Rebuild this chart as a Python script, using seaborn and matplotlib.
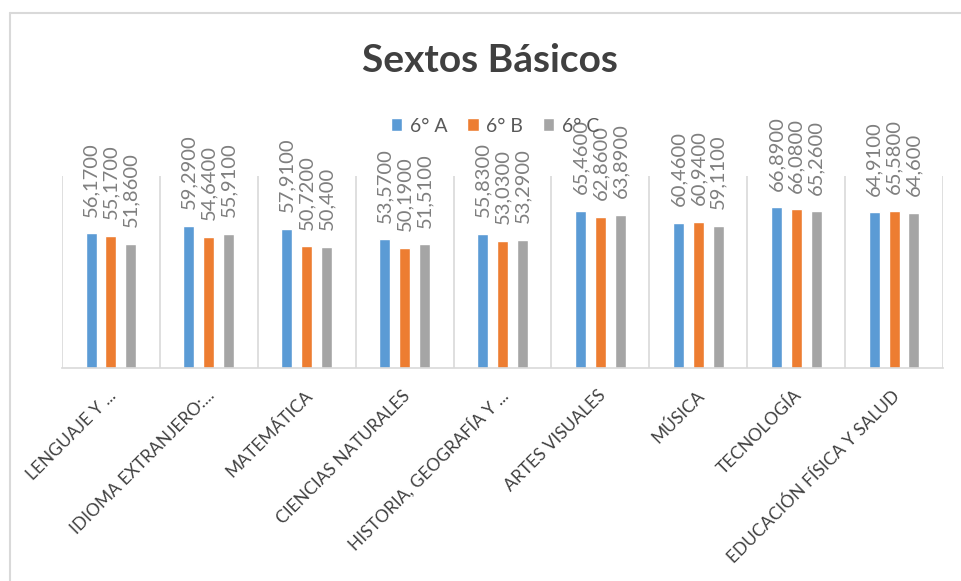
import numpy as np
import pandas as pd
import matplotlib
matplotlib.use("Agg")
import matplotlib.pyplot as plt
import matplotlib.transforms as mtransforms
import seaborn as sns

asignaturas = ["LENGUAJE Y ...", "IDIOMA EXTRANJERO:...", "MATEMÁTICA",
               "CIENCIAS NATURALES", "HISTORIA, GEOGRAFÍA Y ...", "ARTES VISUALES",
               "MÚSICA", "TECNOLOGÍA", "EDUCACIÓN FÍSICA Y SALUD"]
cursos = ["6° A", "6° B", "6° C"]
sexto_a = [56.17, 59.29, 57.91, 53.57, 55.83, 65.46, 60.46, 66.89, 64.91]
sexto_b = [55.17, 54.64, 50.72, 50.19, 53.03, 62.86, 60.94, 66.08, 65.58]
sexto_c = [51.86, 55.91, 50.40, 51.51, 53.29, 63.89, 59.11, 65.26, 64.60]
etiquetas_a = ["56,1700", "59,2900", "57,9100", "53,5700", "55,8300", "65,4600", "60,4600", "66,8900", "64,9100"]
etiquetas_b = ["55,1700", "54,6400", "50,7200", "50,1900", "53,0300", "62,8600", "60,9400", "66,0800", "65,5800"]
etiquetas_c = ["51,8600", "55,9100", "50,400", "51,5100", "53,2900", "63,8900", "59,1100", "65,2600", "64,600"]
colores = ["#5B9BD5", "#ED7D31", "#A5A5A5"]

df = pd.DataFrame({
    "asignatura": asignaturas * 3,
    "curso": np.repeat(cursos, len(asignaturas)),
    "nota": sexto_a + sexto_b + sexto_c,
})

sns.set_theme(style="white")
plt.rcParams["font.family"] = ["Lato", "DejaVu Sans"]

W, H = 962, 581
fig = plt.figure(figsize=(W / 100, H / 100), dpi=100)
ax = fig.add_axes([62 / W, (H - 368) / H, (943 - 62) / W, (368 - 176) / H])

sns.barplot(data=df, x="asignatura", y="nota", hue="curso", palette=colores,
            width=0.61, gap=0.45, ax=ax, saturation=1, errorbar=None)

for cont, labs in zip(ax.containers, [etiquetas_a, etiquetas_b, etiquetas_c]):
    ax.bar_label(cont, labels=labs, rotation=90, padding=12, fontsize=14.5, color="#7F7F7F")

ax.set_ylim(0, 80)
ax.set_xlim(-0.5, len(asignaturas) - 0.5)
ax.set_yticks([])
ax.set_xlabel("")
ax.set_ylabel("")
for s in ["top", "right", "left"]:
    ax.spines[s].set_visible(False)
ax.spines["bottom"].set_color("#D9D9D9")
ax.spines["bottom"].set_linewidth(1.2)

ax.set_xticks(np.arange(-0.5, len(asignaturas)), minor=True)
ax.grid(which="minor", axis="x", color="#D9D9D9", linewidth=1.2)
ax.tick_params(axis="x", which="both", length=0, pad=18)
ax.set_xticks(range(len(asignaturas)))
ax.set_xticklabels(asignaturas, rotation=45, ha="right", va="center",
                   rotation_mode="anchor", fontsize=12.5, color="#404040")
shift = mtransforms.ScaledTranslation(3 / 100, 0, fig.dpi_scale_trans)
for t in ax.get_xticklabels():
    t.set_transform(t.get_transform() + shift)

handles, labels = ax.get_legend_handles_labels()
ax.legend_.remove()
fig.legend(handles, labels, loc="center", bbox_to_anchor=(495 / W, 1 - 126 / H),
           ncol=3, frameon=False, fontsize=14, labelcolor="#595959",
           handlelength=0.6, handleheight=0.6, handletextpad=0.4, columnspacing=1.0)

fig.text(490 / W, 1 - 60 / H, "Sextos Básicos", ha="center", va="center",
         fontsize=28, fontweight="bold", color="#404040")

# chart border (top and left visible)
fig.add_artist(plt.Line2D([10 / W, 1], [1 - 13 / H, 1 - 13 / H], color="#D9D9D9", lw=1.5))
fig.add_artist(plt.Line2D([10 / W, 10 / W], [0, 1 - 13 / H], color="#D9D9D9", lw=1.5))

fig.savefig("out.png", dpi=100)
